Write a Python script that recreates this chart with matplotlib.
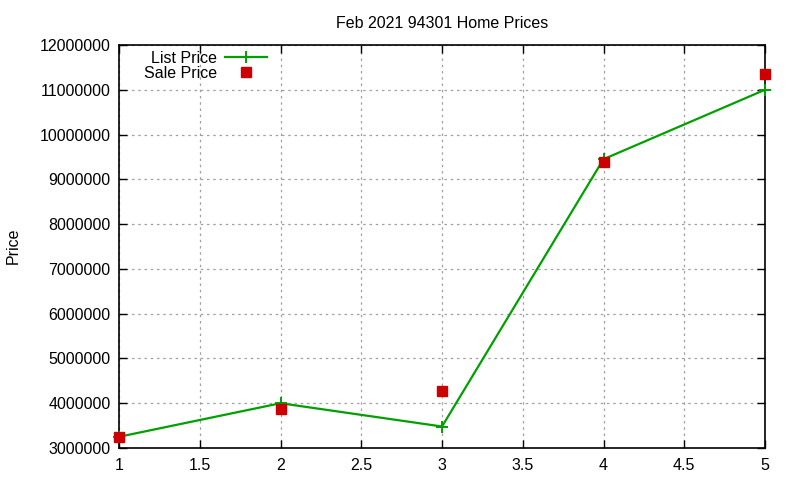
import matplotlib
matplotlib.use('Agg')
import matplotlib.pyplot as plt

plt.rcParams['font.family'] = ['Liberation Sans', 'DejaVu Sans']

listing = [1, 2, 3, 4, 5]
list_price = [3250000, 4000000, 3480000, 9450000, 11000000]
sale_price = [3250000, 3880000, 4270000, 9380000, 11350000]
x_ticks = [1, 1.5, 2, 2.5, 3, 3.5, 4, 4.5, 5]
x_labels = ['1', '1.5', '2', '2.5', '3', '3.5', '4', '4.5', '5']
y_ticks = list(range(3000000, 12000001, 1000000))

fig = plt.figure(figsize=(8, 4.8), dpi=100)
ax = fig.add_axes([119 / 800, 1 - 448 / 480, (765 - 119) / 800, (448 - 45) / 480])

ax.plot(listing, list_price, color='#00a000', lw=1.6, marker='+', ms=9, mew=1.4,
        label='List Price', zorder=3, clip_on=False)
ax.plot(listing, sale_price, color='#cc0000', ls='none', marker='s', ms=6.5,
        label='Sale Price', zorder=4, clip_on=False)

ax.set_xlim(1, 5)
ax.set_ylim(3000000, 12000000)
ax.set_xticks(x_ticks)
ax.set_xticklabels(x_labels)
ax.set_yticks(y_ticks)
ax.set_yticklabels([str(v) for v in y_ticks])
ax.tick_params(direction='in', length=6, width=1, top=True, right=True,
               labelsize=11.5, colors='black')
ax.tick_params(axis='x', pad=7)
ax.tick_params(axis='y', pad=6)
ax.grid(True, color='#a0a0a0', linestyle=(0, (2, 3)), lw=0.9)
for s in ax.spines.values():
    s.set_linewidth(1.2)

ax.set_title('Feb 2021 94301 Home Prices', fontsize=11.5, pad=12)
# y label sits near the left edge, like gnuplot does it
fig.text(13 / 800, 1 - 246 / 480, 'Price', fontsize=11.5, rotation=90,
         ha='center', va='center')

ax.legend(loc='upper left', bbox_to_anchor=(0.024, 1.01), frameon=False,
          markerfirst=False, fontsize=11.5, handlelength=2.6, borderaxespad=0.2,
          labelspacing=0.0, handletextpad=0.5)

fig.savefig('out.png', dpi=100)
